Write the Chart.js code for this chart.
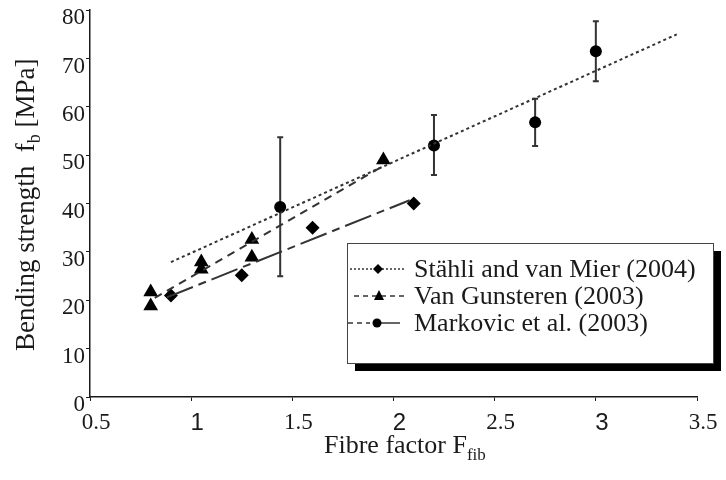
<!DOCTYPE html>
<html>
<head>
<meta charset="utf-8">
<script src="https://cdn.jsdelivr.net/npm/chart.js@4"></script>
<style>
    body { margin: 0; background: #fff; }
    #wrap { width: 726px; height: 480px; }
</style>
</head>
<body>
<div id="wrap"><canvas id="bending-chart"></canvas></div>
<script>
// Datos
const stahliX = [0.9, 1.25, 1.6, 2.1];
const stahliY = [21, 25.2, 35, 40];

const gunsterenX = [0.8, 0.8, 1.05, 1.05, 1.3, 1.3, 1.95];
const gunsterenY = [21.7, 18.8, 27.9, 26.4, 32.6, 28.9, 49];

const markovicX = [1.44, 2.2, 2.7, 3.0];
const markovicY = [39.3, 52, 56.8, 71.5];
const markovicLow = [25, 45.9, 51.9, 65.3];
const markovicHigh = [53.7, 58.3, 61.7, 77.7];

// Rectas de ajuste (extremos)
const fitDottedX = [0.9, 3.4];
const fitDottedY = [27.9, 75];
const fitDashedX = [0.82, 1.95];
const fitDashedY = [20.5, 47.8];
const fitDashDotX = [0.88, 2.08];
const fitDashDotY = [20.6, 40.7];

const xTicks = [0.5, 1, 1.5, 2, 2.5, 3, 3.5];
const yTicks = [0, 10, 20, 30, 40, 50, 60, 70, 80];

const legendLabels = ['Stähli and van Mier (2004)', 'Van Gunsteren (2003)', 'Markovic et al. (2003)'];

const ink = '#1a1a1a';
const serif = "'Liberation Serif', 'Times New Roman', serif";
const sans = "'Liberation Sans', Arial, sans-serif";

function toPoints(xs, ys) {
    return xs.map((x, i) => ({ x: x, y: ys[i] }));
}

// Barras de error para Markovic
const errorBars = {
    id: 'errorBars',
    beforeDatasetsDraw(chart) {
        const ctx = chart.ctx;
        const xs = chart.scales.x;
        const ys = chart.scales.y;
        ctx.save();
        ctx.strokeStyle = '#333';
        ctx.lineWidth = 2;
        markovicX.forEach((x, i) => {
            const px = xs.getPixelForValue(x);
            const top = ys.getPixelForValue(markovicHigh[i]);
            const bottom = ys.getPixelForValue(markovicLow[i]);
            ctx.beginPath();
            ctx.moveTo(px, top);
            ctx.lineTo(px, bottom);
            ctx.moveTo(px - 3, top);
            ctx.lineTo(px + 3, top);
            ctx.moveTo(px - 3, bottom);
            ctx.lineTo(px + 3, bottom);
            ctx.stroke();
        });
        ctx.restore();
    }
};

// Títulos de los ejes con subíndices y leyenda con sombra
const decorations = {
    id: 'decorations',
    afterDraw(chart) {
        const ctx = chart.ctx;
        ctx.save();
        ctx.fillStyle = ink;
        ctx.textBaseline = 'alphabetic';

        // Título eje X
        ctx.font = '26px ' + serif;
        const xMain = 'Fibre factor F';
        ctx.fillText(xMain, 324, 453);
        const xw = ctx.measureText(xMain).width;
        ctx.font = '17px ' + serif;
        ctx.fillText('fib', 324 + xw, 460);

        // Título eje Y
        ctx.save();
        ctx.translate(34, 351);
        ctx.rotate(-Math.PI / 2);
        ctx.font = '27px ' + serif;
        const yMain = 'Bending strength  f';
        ctx.fillText(yMain, 0, 0);
        let w = ctx.measureText(yMain).width;
        ctx.font = '18px ' + serif;
        ctx.fillText('b', w, 6);
        w += ctx.measureText('b').width;
        ctx.font = '27px ' + serif;
        ctx.fillText(' [MPa]', w, 0);
        ctx.restore();

        // Leyenda
        const box = { left: 347, top: 243, right: 713, bottom: 363 };
        ctx.fillStyle = '#000';
        ctx.fillRect(box.left + 8, box.top + 8, box.right - box.left, box.bottom - box.top);
        ctx.fillStyle = '#fff';
        ctx.fillRect(box.left, box.top, box.right - box.left, box.bottom - box.top);
        ctx.strokeStyle = '#444';
        ctx.lineWidth = 1;
        ctx.strokeRect(box.left + 0.5, box.top + 0.5, box.right - box.left, box.bottom - box.top);

        const rows = [269, 296, 323];
        ctx.strokeStyle = '#333';
        ctx.lineWidth = 1.5;

        // fila 1: punteada + rombo
        ctx.setLineDash([2, 2]);
        ctx.beginPath();
        ctx.moveTo(350, rows[0]);
        ctx.lineTo(404, rows[0]);
        ctx.stroke();
        // fila 2: discontinua + triángulo
        ctx.setLineDash([5, 4]);
        ctx.beginPath();
        ctx.moveTo(354, rows[1]);
        ctx.lineTo(404, rows[1]);
        ctx.stroke();
        // fila 3: discontinua + círculo + continua
        ctx.beginPath();
        ctx.moveTo(348, rows[2]);
        ctx.lineTo(370, rows[2]);
        ctx.stroke();
        ctx.setLineDash([]);
        ctx.beginPath();
        ctx.moveTo(378, rows[2]);
        ctx.lineTo(400, rows[2]);
        ctx.stroke();

        ctx.fillStyle = '#000';
        ctx.beginPath();
        ctx.moveTo(378, rows[0] - 5);
        ctx.lineTo(383, rows[0]);
        ctx.lineTo(378, rows[0] + 5);
        ctx.lineTo(373, rows[0]);
        ctx.closePath();
        ctx.fill();
        ctx.beginPath();
        ctx.moveTo(379, rows[1] - 6);
        ctx.lineTo(384, rows[1] + 4);
        ctx.lineTo(374, rows[1] + 4);
        ctx.closePath();
        ctx.fill();
        ctx.beginPath();
        ctx.arc(377, rows[2], 4.5, 0, Math.PI * 2);
        ctx.fill();

        ctx.fillStyle = ink;
        ctx.font = '26px ' + serif;
        ctx.textBaseline = 'middle';
        legendLabels.forEach((label, i) => {
            ctx.fillText(label, 414, rows[i] + 1);
        });
        ctx.restore();
    }
};

const ctx = document.getElementById('bending-chart').getContext('2d');

const bendingChart = new Chart(ctx, {
    type: 'scatter',
    data: {
        datasets: [
            {
                data: toPoints(fitDottedX, fitDottedY),
                showLine: true,
                borderColor: '#333',
                borderWidth: 2,
                borderDash: [3, 3],
                pointRadius: 0
            },
            {
                data: toPoints(fitDashedX, fitDashedY),
                showLine: true,
                borderColor: '#333',
                borderWidth: 2,
                borderDash: [8, 6],
                pointRadius: 0
            },
            {
                data: toPoints(fitDashDotX, fitDashDotY),
                showLine: true,
                borderColor: '#333',
                borderWidth: 2,
                borderDash: [28, 6, 8, 6],
                pointRadius: 0
            },
            {
                label: legendLabels[0],
                data: toPoints(stahliX, stahliY),
                pointStyle: 'rectRot',
                pointRadius: 7,
                backgroundColor: '#000',
                borderColor: '#000',
                borderWidth: 0
            },
            {
                label: legendLabels[1],
                data: toPoints(gunsterenX, gunsterenY),
                pointStyle: 'triangle',
                pointRadius: 8.5,
                backgroundColor: '#000',
                borderColor: '#000',
                borderWidth: 0
            },
            {
                label: legendLabels[2],
                data: toPoints(markovicX, markovicY),
                pointStyle: 'circle',
                pointRadius: 6,
                backgroundColor: '#000',
                borderColor: '#000',
                borderWidth: 0
            }
        ]
    },
    options: {
        responsive: true,
        maintainAspectRatio: false,
        animation: false,
        layout: {
            padding: { top: 10, right: 29, left: 0, bottom: 0 }
        },
        plugins: {
            legend: { display: false },
            tooltip: { enabled: false }
        },
        scales: {
            x: {
                type: 'linear',
                min: xTicks[0],
                max: xTicks[xTicks.length - 1],
                afterFit: scale => { scale.height = 83; },
                afterBuildTicks: scale => { scale.ticks = xTicks.map(v => ({ value: v })); },
                border: { display: true, color: ink, width: 1.5 },
                grid: { drawOnChartArea: false, tickLength: 4, color: ink, tickWidth: 1 },
                ticks: {
                    color: ink,
                    padding: 10,
                    labelOffset: 6,
                    maxRotation: 0,
                    callback: value => String(value),
                    font: c => Number.isInteger(c.tick && c.tick.value)
                        ? { family: sans, size: 24, lineHeight: 1 }
                        : { family: serif, size: 23, lineHeight: 1 }
                }
            },
            y: {
                min: yTicks[0],
                max: yTicks[yTicks.length - 1],
                afterFit: scale => { scale.width = 90; },
                afterBuildTicks: scale => { scale.ticks = yTicks.map(v => ({ value: v })); },
                border: { display: true, color: ink, width: 1.5 },
                grid: { drawOnChartArea: false, tickLength: 4, color: ink, tickWidth: 1 },
                ticks: {
                    color: ink,
                    padding: 1,
                    labelOffset: 8,
                    callback: value => String(value),
                    font: { family: serif, size: 23, lineHeight: 0.8 }
                }
            }
        }
    },
    plugins: [errorBars, decorations]
});
</script>
</body>
</html>
